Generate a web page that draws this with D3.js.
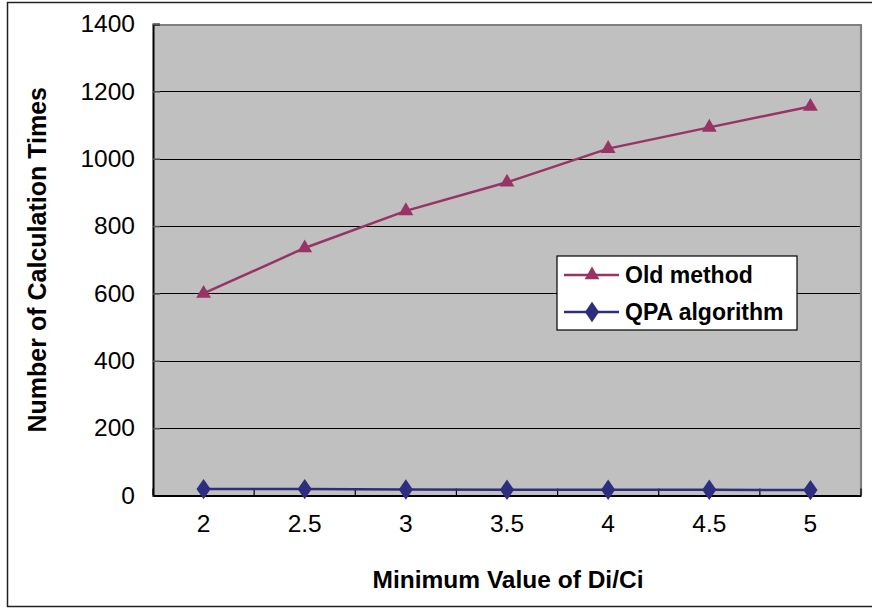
<!DOCTYPE html>
<html>
<head>
<meta charset="utf-8">
<script src="https://cdn.jsdelivr.net/npm/d3@7"></script>
<style>
  html, body { margin: 0; padding: 0; background: #fff; }
  svg { display: block; font-family: "Liberation Sans", Arial, sans-serif; }
</style>
</head>
<body>
<svg id="chart" width="872" height="608"></svg>
<script>
// Minimum value of Di/Ci (category axis)
const categories = ["2", "2.5", "3", "3.5", "4", "4.5", "5"];
// Number of calculation times for each method
const oldMethod = [600, 735, 845, 930, 1030, 1093, 1155];
const qpaAlgorithm = [19, 19, 18, 17, 17, 17, 16];
const yTicks = [0, 200, 400, 600, 800, 1000, 1200, 1400];

const svg = d3.select("#chart");
const plot = { left: 153, top: 24, right: 861, bottom: 495.5 };
const fontFamily = "'Liberation Sans', Arial, sans-serif";

// outer frame
svg.append("rect")
  .attr("x", 7.5).attr("y", 2.5)
  .attr("width", 880).attr("height", 604)
  .attr("fill", "#fff").attr("stroke", "#222").attr("stroke-width", 1.5);

const x = d3.scaleBand().domain(categories).range([plot.left, plot.right]);
const y = d3.scaleLinear().domain([0, 1400]).range([plot.bottom, plot.top]);

// plot area
svg.append("rect")
  .attr("x", plot.left).attr("y", plot.top)
  .attr("width", plot.right - plot.left).attr("height", plot.bottom - plot.top)
  .attr("fill", "#c0c0c0");

// gridlines
svg.append("g").selectAll("line")
  .data(yTicks.filter(d => d > 0 && d < 1400))
  .join("line")
  .attr("x1", plot.left).attr("x2", plot.right)
  .attr("y1", d => Math.round(y(d)) + 0.5).attr("y2", d => Math.round(y(d)) + 0.5)
  .attr("stroke", "#000").attr("stroke-width", 1.2);

// gray border top and right
svg.append("path")
  .attr("d", `M${plot.left},${plot.top + 1}H${plot.right}V${plot.bottom}`)
  .attr("fill", "none").attr("stroke", "#808080").attr("stroke-width", 2.2);

// y axis (ticks point into the plot area)
const yAxis = svg.append("g")
  .attr("transform", `translate(${plot.left},0)`)
  .call(d3.axisLeft(y).tickValues(yTicks).tickSize(-7).tickPadding(18).tickFormat(d3.format("d")));
yAxis.select(".domain").attr("stroke", "#000").attr("stroke-width", 2);
yAxis.selectAll(".tick line").attr("stroke", "#555").attr("stroke-width", 1.5);
yAxis.selectAll(".tick text")
  .attr("font-size", 24.5).attr("fill", "#000")
  .attr("font-family", fontFamily);

// x axis
const xAxis = svg.append("g")
  .attr("transform", `translate(0,${plot.bottom})`)
  .call(d3.axisBottom(x).tickSize(0).tickPadding(19));
xAxis.select(".domain").attr("stroke", "#000").attr("stroke-width", 2);
xAxis.selectAll(".tick text")
  .attr("font-size", 24.5).attr("fill", "#000")
  .attr("font-family", fontFamily);
// tick marks between categories
const bounds = categories.map(c => x(c)).concat([plot.right]);
svg.append("g").selectAll("line")
  .data(bounds)
  .join("line")
  .attr("x1", d => d).attr("x2", d => d)
  .attr("y1", plot.bottom - 7).attr("y2", plot.bottom)
  .attr("stroke", "#000").attr("stroke-width", 1.2);

const cx = c => x(c) + x.bandwidth() / 2;
const oldColor = "#993366";
const qpaColor = "#2e2e80";

const line = d3.line().x((d, i) => cx(categories[i])).y(d => y(d));

svg.append("path").datum(oldMethod)
  .attr("d", line).attr("fill", "none")
  .attr("stroke", oldColor).attr("stroke-width", 2.5);
svg.append("path").datum(qpaAlgorithm)
  .attr("d", line).attr("fill", "none")
  .attr("stroke", qpaColor).attr("stroke-width", 2.5);

const tri = d3.symbol().type(d3.symbolTriangle).size(95);
const dia = d3.symbol().type(d3.symbolDiamond).size(120);

svg.append("g").selectAll("path")
  .data(oldMethod)
  .join("path")
  .attr("d", tri)
  .attr("transform", (d, i) => `translate(${cx(categories[i])},${y(d)})`)
  .attr("fill", oldColor);

svg.append("g").selectAll("path")
  .data(qpaAlgorithm)
  .join("path")
  .attr("d", dia)
  .attr("transform", (d, i) => `translate(${cx(categories[i])},${y(d)}) scale(1.2,1)`)
  .attr("fill", qpaColor);

// axis titles
svg.append("text")
  .attr("x", 508).attr("y", 588)
  .attr("text-anchor", "middle")
  .attr("font-size", 24.5).attr("font-weight", "bold")
  .text("Minimum Value of Di/Ci");

svg.append("text")
  .attr("transform", `translate(46,${(plot.top + plot.bottom) / 2}) rotate(-90)`)
  .attr("text-anchor", "middle")
  .attr("font-size", 25).attr("font-weight", "bold")
  .text("Number of Calculation Times");

// legend
const lg = svg.append("g").attr("transform", "translate(557,256)");
lg.append("rect")
  .attr("x", 0).attr("y", 0).attr("width", 240).attr("height", 74)
  .attr("fill", "#fff").attr("stroke", "#000").attr("stroke-width", 1.2);
const legendItems = [
  { name: "Old method", color: oldColor, sym: tri, sx: 1 },
  { name: "QPA algorithm", color: qpaColor, sym: dia, sx: 1.2 }
];
const li = lg.selectAll("g.item").data(legendItems).join("g")
  .attr("transform", (d, i) => `translate(0,${19 + i * 37})`);
li.append("line")
  .attr("x1", 7).attr("x2", 62).attr("y1", 0).attr("y2", 0)
  .attr("stroke", d => d.color).attr("stroke-width", 2.5);
li.append("path")
  .attr("d", d => d.sym())
  .attr("transform", d => `translate(35,0) scale(${d.sx},1)`)
  .attr("fill", d => d.color);
li.append("text")
  .attr("x", 68).attr("y", 8)
  .attr("font-size", 23).attr("font-weight", "bold")
  .text(d => d.name);
</script>
</body>
</html>
